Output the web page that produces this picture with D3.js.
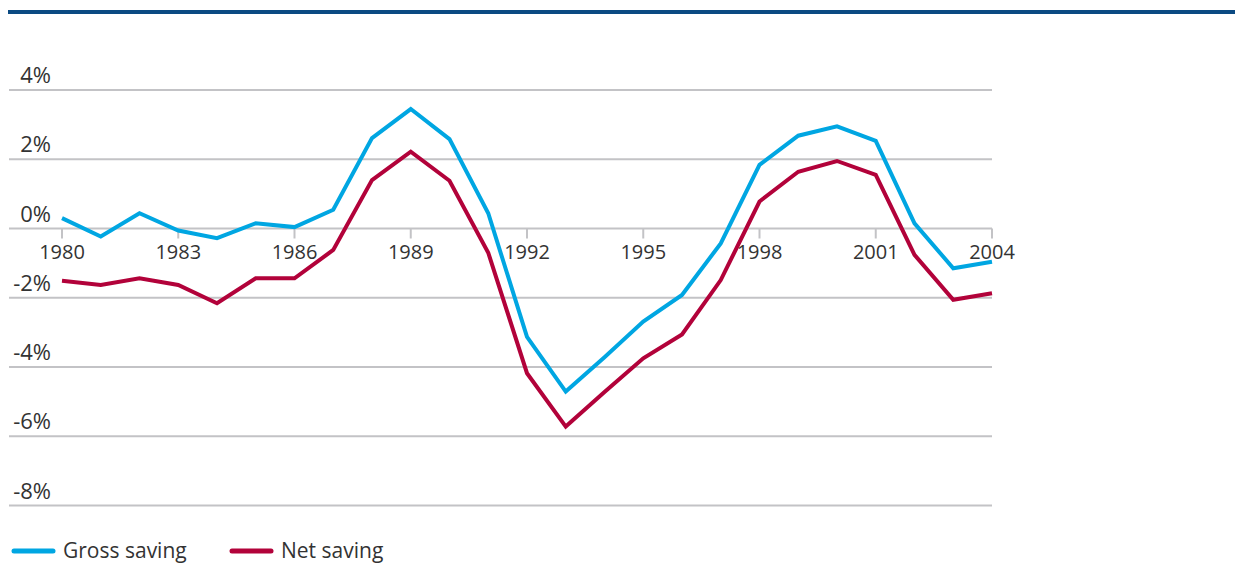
<!DOCTYPE html>
<html>
<head>
<meta charset="utf-8">
<script src="https://cdn.jsdelivr.net/npm/d3@7"></script>
<style>
  body { margin: 0; background: #fff; }
  svg text { font-family: "Open Sans", "Noto Sans", sans-serif; fill: #333; }
</style>
</head>
<body>
<svg id="chart" width="1242" height="563"></svg>
<script>
// years and series (percent)
var years = d3.range(1980, 2005);
var gross = [0.30, -0.23, 0.44, -0.06, -0.28, 0.15, 0.04, 0.54, 2.61, 3.45, 2.58, 0.44, -3.13,
             -4.71, -3.72, -2.69, -1.92, -0.43, 1.84, 2.68, 2.95, 2.53, 0.15, -1.15, -0.96];
var net = [-1.51, -1.63, -1.44, -1.63, -2.16, -1.44, -1.44, -0.62, 1.40, 2.22, 1.38, -0.70, -4.18,
           -5.72, -4.72, -3.75, -3.06, -1.49, 0.78, 1.64, 1.95, 1.55, -0.76, -2.06, -1.87];
var yTicks = [4, 2, 0, -2, -4, -6, -8];
var xTicks = [1980, 1983, 1986, 1989, 1992, 1995, 1998, 2001, 2004];
var series = [
  {name: "Gross saving", values: gross, color: "#00a6e2"},
  {name: "Net saving", values: net, color: "#b2023a"}
];

var svg = d3.select("#chart");

// top rule
svg.append("rect")
  .attr("x", 8).attr("y", 10)
  .attr("width", 1227).attr("height", 4)
  .style("fill", "#0b4a82");

var x = d3.scaleLinear().domain([1980, 2004]).range([62, 992]);
var y = d3.scaleLinear().domain([-8, 4]).range([505.5, 90]);

// gridlines + y labels
var grid = svg.append("g");
grid.selectAll("line").data(yTicks).enter().append("line")
  .attr("x1", 9).attr("x2", 992)
  .attr("y1", d => y(d)).attr("y2", d => y(d))
  .style("stroke", "#c3c3c6").style("stroke-width", 2);
grid.selectAll("text").data(yTicks).enter().append("text")
  .attr("x", 51).attr("y", d => y(d) - 7)
  .attr("text-anchor", "end")
  .style("font-size", "22px")
  .text(d => d + "%");

// x axis ticks on the zero line
var xa = svg.append("g");
xa.selectAll("line").data(xTicks).enter().append("line")
  .attr("x1", d => x(d)).attr("x2", d => x(d))
  .attr("y1", y(0)).attr("y2", y(0) + 10)
  .style("stroke", "#c3c3c6").style("stroke-width", 2);
xa.selectAll("text").data(xTicks).enter().append("text")
  .attr("x", d => x(d)).attr("y", y(0) + 30)
  .attr("text-anchor", "middle")
  .style("font-size", "20px")
  .text(d => d);

// lines
var line = d3.line()
  .x((d, i) => x(years[i]))
  .y(d => y(d));

svg.selectAll("path.series").data(series).enter().append("path")
  .attr("class", "series")
  .attr("d", d => line(d.values))
  .style("fill", "none")
  .style("stroke", d => d.color)
  .style("stroke-width", "4px")
  .style("stroke-linejoin", "miter");

// legend
var leg = svg.append("g");
var legX = [12, 230];
series.forEach(function(s, i) {
  leg.append("line")
    .attr("x1", legX[i] + 2).attr("x2", legX[i] + 41)
    .attr("y1", 551).attr("y2", 551)
    .style("stroke", s.color).style("stroke-width", 5)
    .style("stroke-linecap", "round");
  leg.append("text")
    .attr("x", legX[i] + 51).attr("y", 558)
    .style("font-size", "21px")
    .text(s.name);
});
</script>
</body>
</html>
